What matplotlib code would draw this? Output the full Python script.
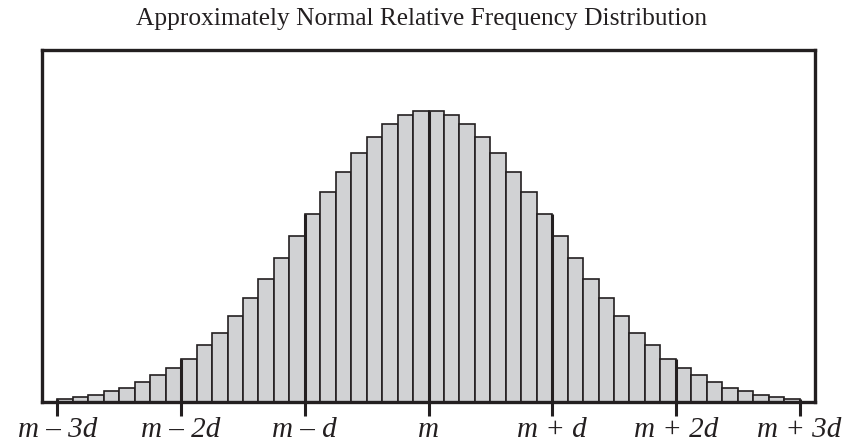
import numpy as np
import matplotlib.pyplot as plt

# ====================
# DATOS
# ====================
# alturas de las barras (unidades relativas), 8 barras por d
alturas = [3.3, 5.0, 7.0, 10.7, 14.3, 20.0, 27.3, 34.3,
           43.3, 56.7, 69.3, 85.7, 104.0, 122.7, 144.3, 166.0,
           188.3, 210.0, 230.0, 249.0, 265.0, 277.7, 287.0, 290.7,
           290.7, 287.0, 277.7, 265.0, 249.0, 230.0, 210.0, 188.3,
           166.0, 144.3, 122.7, 104.0, 85.7, 69.3, 56.7, 43.3,
           34.3, 27.3, 20.0, 14.3, 10.7, 7.0, 5.0, 3.3]
barras_por_d = 8
ticks_d = [-3, -2, -1, 0, 1, 2, 3]
etiquetas = ["m – 3d", "m – 2d", "m – d", "m", "m + d", "m + 2d", "m + 3d"]
titulo = "Approximately Normal Relative Frequency Distribution"

gris = "#d1d2d4"
negro = "#231f20"

# ====================
# FIGURA
# ====================
fig = plt.figure(figsize=(8.43, 4.43), dpi=100)
ax = fig.add_axes([42 / 843, 1 - 402 / 443, (815 - 42) / 843, (402 - 50) / 443])

ancho = 1 / barras_por_d
izq = -3 + ancho * np.arange(len(alturas))
ax.bar(izq, alturas, width=ancho, align="edge", color=gris,
       edgecolor=negro, linewidth=1.2)

# lineas gruesas en m + k d
for k in ticks_d:
    i = int((k + 3) * barras_por_d)
    vecinos = [alturas[j] for j in (i - 1, i) if 0 <= j < len(alturas)]
    ax.vlines(k, 0, max(vecinos), color=negro, linewidth=2.2, zorder=3)

ax.set_xlim(-3.125, 3.125)
ax.set_ylim(0, 290.7 * 352 / 291)

for s in ax.spines.values():
    s.set_linewidth(2.4)
    s.set_color(negro)

ax.set_yticks([])
ax.set_xticks(ticks_d)
ax.set_xticklabels(etiquetas, fontfamily="Liberation Serif", fontstyle="italic",
                   fontsize=21)
ax.tick_params(axis="x", length=10, width=2.2, color=negro, pad=0.5, labelcolor=negro)

fig.text(0.5, 1 - 19.5 / 443, titulo, ha="center", va="center",
         fontfamily="Liberation Serif", fontsize=18.3, color=negro)

fig.savefig("out.png", dpi=100)
